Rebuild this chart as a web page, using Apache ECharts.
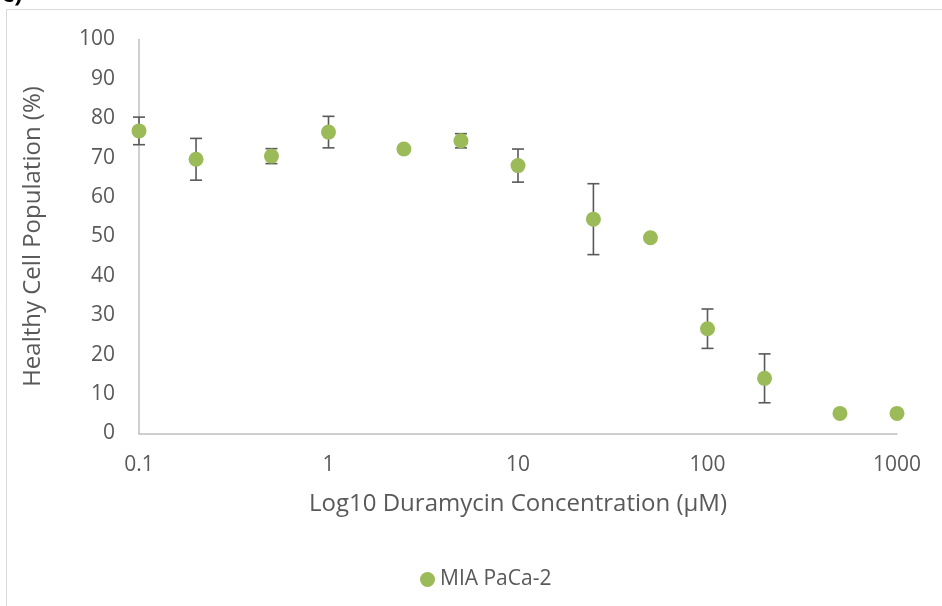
<!DOCTYPE html>
<html>
<head>
<meta charset="utf-8">
<script src="https://cdn.jsdelivr.net/npm/echarts@6/dist/echarts.min.js"></script>
<style>
  html, body { margin: 0; padding: 0; background: #fff; }
  #chart { width: 942px; height: 606px; }
</style>
</head>
<body>
<div id="chart"></div>
<script>
// Duramycin dose response, MIA PaCa-2 cells
const concentrations = [0.1, 0.2, 0.5, 1, 2.5, 5, 10, 25, 50, 100, 200, 500, 1000];
const healthyPct     = [76.8, 69.6, 70.4, 76.5, 72.2, 74.3, 68.0, 54.4, 49.7, 26.6, 14.0, 5.1, 5.1];
const errorPct       = [3.5, 5.3, 1.9, 4.0, 0, 1.8, 4.2, 9.0, 0, 5.0, 6.2, 0, 0];
const yTicks         = [0, 10, 20, 30, 40, 50, 60, 70, 80, 90, 100];
const xTickLabels    = ['0.1', '1', '10', '100', '1000'];
const seriesName     = 'MIA PaCa-2';

const textColor = '#595959';
const font = 'Open Sans';

const points = concentrations.map((c, i) => [c, healthyPct[i]]);
const bars = concentrations.map((c, i) => [c, healthyPct[i] - errorPct[i], healthyPct[i] + errorPct[i]])
  .filter((d, i) => errorPct[i] > 0);

const chart = echarts.init(document.getElementById('chart'));
chart.setOption({
  animation: false,
  backgroundColor: '#fff',
  grid: { left: 139, right: 45, top: 39.5, bottom: 172.5, containLabel: false },
  graphic: [
    { type: 'rect', shape: { x: 6.5, y: 9.5, width: 960, height: 620 },
      style: { fill: 'none', stroke: '#D9D9D9', lineWidth: 1 } },
    { type: 'text', left: 2, top: -17,
      style: { text: 'c)', font: 'bold 24px ' + font, fill: '#000' } }
  ],
  legend: {
    bottom: 11, left: 415,
    itemWidth: 15, itemHeight: 15, itemGap: 5,
    textStyle: { color: textColor, fontSize: 21, fontFamily: font },
    data: [{ name: seriesName, icon: 'circle' }]
  },
  xAxis: {
    type: 'log', logBase: 10, min: 0.1, max: 1000,
    name: 'Log10 Duramycin Concentration (µM)',
    nameLocation: 'middle', nameGap: 59,
    nameTextStyle: { color: textColor, fontSize: 24, fontFamily: font },
    axisLine: { show: true, lineStyle: { color: '#BFBFBF', width: 1.5 } },
    axisTick: { show: false },
    splitLine: { show: false },
    axisLabel: {
      color: textColor, fontSize: 21, fontFamily: font, margin: 21,
      formatter: v => {
        const e = Math.round(Math.log10(v));
        return xTickLabels[e + 1] !== undefined ? xTickLabels[e + 1] : '';
      }
    }
  },
  yAxis: {
    type: 'value', min: 0, max: 100, interval: 10,
    name: 'Healthy Cell Population (%)',
    nameLocation: 'middle', nameGap: 94, nameRotate: 90,
    nameTextStyle: { color: textColor, fontSize: 24, fontFamily: font },
    axisLine: { show: true, lineStyle: { color: '#BFBFBF', width: 1.5 } },
    axisTick: { show: false },
    splitLine: { show: false },
    axisLabel: {
      color: textColor, fontSize: 21, fontFamily: font, margin: 24,
      formatter: v => yTicks.indexOf(v) >= 0 ? String(v) : ''
    }
  },
  series: [
    {
      name: 'error',
      type: 'custom',
      data: bars,
      z: 1,
      renderItem: (params, api) => {
        const x = api.value(0);
        const lo = api.coord([x, api.value(1)]);
        const hi = api.coord([x, api.value(2)]);
        const half = 6;
        const style = { stroke: '#595959', lineWidth: 1.6 };
        return {
          type: 'group',
          children: [
            { type: 'line', shape: { x1: lo[0], y1: lo[1], x2: hi[0], y2: hi[1] }, style },
            { type: 'line', shape: { x1: lo[0] - half, y1: lo[1], x2: lo[0] + half, y2: lo[1] }, style },
            { type: 'line', shape: { x1: hi[0] - half, y1: hi[1], x2: hi[0] + half, y2: hi[1] }, style }
          ]
        };
      }
    },
    {
      name: seriesName,
      type: 'scatter',
      data: points,
      symbol: 'circle',
      symbolSize: 15,
      z: 3,
      itemStyle: { color: '#9BBB59', opacity: 1 }
    }
  ]
});
</script>
</body>
</html>
